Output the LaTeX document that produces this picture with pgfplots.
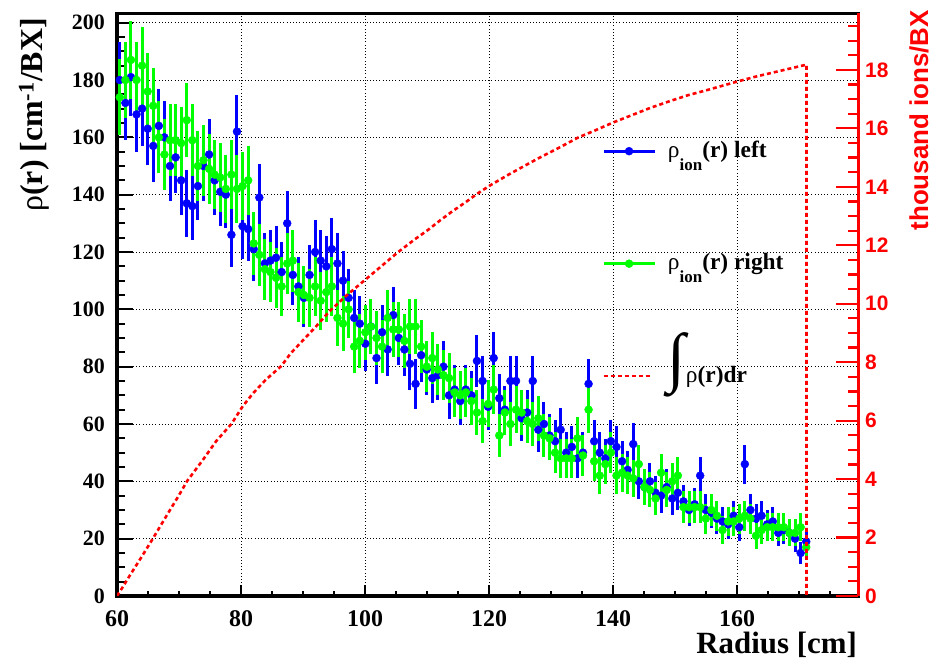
\documentclass[border=0pt]{standalone}
\usepackage{fontspec}
\setmainfont{Liberation Serif}
\newfontfamily\arialfont{Liberation Sans}
\usepackage{pgfplots}
\pgfplotsset{compat=1.18}
\usepackage{pgfplotstable}

\pgfplotstableread{
x y e
60.45 180 13.4
61.35 172 13.1
62.25 181 13.5
63.15 168 13.0
64.05 170 13.0
64.95 163 12.8
65.85 157 12.5
66.75 164 12.8
67.65 160 12.6
68.55 150 12.2
69.45 153 12.4
70.35 145 12.0
71.25 137 11.7
72.15 136 11.7
73.05 143 12.0
73.95 150 12.2
74.85 154 12.4
75.75 145 12.0
76.65 141 11.9
77.55 140 11.8
78.45 126 11.2
79.35 162 12.7
80.25 129 11.4
81.15 128 11.3
82.05 121 11.0
82.95 139 11.8
83.85 116 10.8
84.75 117 10.8
85.65 118 10.9
86.55 113 10.6
87.45 130 11.4
88.35 112 10.6
89.25 108 10.4
90.15 104 10.2
91.05 112 10.6
91.95 120 11.0
92.85 117 10.8
93.75 115 10.7
94.65 121 11.0
95.55 116 10.8
96.45 110 10.5
97.35 104 10.2
98.25 97 9.8
99.15 95 9.7
100.05 88 9.4
100.95 94 9.7
101.85 83 9.1
102.75 92 9.6
103.65 86 9.3
104.55 98 9.9
105.45 90 9.5
106.35 86 9.3
107.25 81 9.0
108.15 74 8.6
109.05 84 9.2
109.95 79 8.9
110.85 76 8.7
111.75 77 8.8
112.65 80 8.9
113.55 70 8.4
114.45 72 8.5
115.35 68 8.2
116.25 72 8.5
117.15 70 8.4
118.05 82 9.1
118.95 75 8.7
119.85 66 8.1
120.75 83 9.1
121.65 69 8.3
122.55 65 8.1
123.45 75 8.7
124.35 75 8.7
125.25 62 7.9
126.15 64 8.0
127.05 75 8.7
127.95 58 7.6
128.85 60 7.7
129.75 56 7.5
130.65 54 7.3
131.55 58 7.6
132.45 50 7.1
133.35 52 7.2
134.25 48 6.9
135.15 50 7.1
136.05 74 8.6
136.95 54 7.3
137.85 50 7.1
138.75 48 6.9
139.65 54 7.3
140.55 52 7.2
141.45 47 6.9
142.35 44 6.6
143.25 53 7.3
144.15 40 6.3
145.05 38 6.2
145.95 40 6.3
146.85 36 6.0
147.75 35 5.9
148.65 38 6.2
149.55 34 5.8
150.45 36 6.0
151.35 33 5.7
152.25 30 5.5
153.15 32 5.7
154.05 42 6.5
154.95 30 5.5
155.85 29 5.4
156.75 27 5.2
157.65 26 5.1
158.55 25 5.0
159.45 28 5.3
160.35 24 4.9
161.25 46 6.8
162.15 30 5.5
163.05 27 5.2
163.95 28 5.3
164.85 25 5.0
165.75 26 5.1
166.65 22 4.7
167.55 23 4.8
168.45 22 4.7
169.35 20 4.5
170.25 15 3.9
171.15 19 4.4
}\bluetab

\pgfplotstableread{
x y e
60.45 174 13.2
61.35 180 13.4
62.25 187 13.7
63.15 180 13.4
64.05 185 13.6
64.95 176 13.3
65.85 171 13.1
66.75 160 12.6
67.65 154 12.4
68.55 159 12.6
69.45 159 12.6
70.35 158 12.6
71.25 166 12.9
72.15 159 12.6
73.05 150 12.2
73.95 152 12.3
74.85 149 12.2
75.75 147 12.1
76.65 146 12.1
77.55 142 11.9
78.45 147 12.1
79.35 142 11.9
80.25 143 12.0
81.15 145 12.0
82.05 123 11.1
82.95 119 10.9
83.85 114 10.7
84.75 113 10.6
85.65 111 10.5
86.55 108 10.4
87.45 116 10.8
88.35 117 10.8
89.25 106 10.3
90.15 105 10.2
91.05 104 10.2
91.95 108 10.4
92.85 103 10.1
93.75 106 10.3
94.65 108 10.4
95.55 97 9.8
96.45 95 9.7
97.35 100 10.0
98.25 87 9.3
99.15 89 9.4
100.05 92 9.6
100.95 94 9.7
101.85 90 9.5
102.75 87 9.3
103.65 97 9.8
104.55 93 9.6
105.45 93 9.6
106.35 89 9.4
107.25 94 9.7
108.15 94 9.7
109.05 87 9.3
109.95 80 8.9
110.85 83 9.1
111.75 79 8.9
112.65 77 8.8
113.55 76 8.7
114.45 71 8.4
115.35 70 8.4
116.25 71 8.4
117.15 68 8.2
118.05 64 8.0
118.95 61 7.8
119.85 67 8.2
120.75 72 8.5
121.65 56 7.5
122.55 64 8.0
123.45 60 7.7
124.35 65 8.1
125.25 64 8.0
126.15 61 7.8
127.05 60 7.7
127.95 62 7.9
128.85 56 7.5
129.75 55 7.4
130.65 50 7.1
131.55 48 6.9
132.45 48 6.9
133.35 48 6.9
134.25 55 7.4
135.15 49 7.0
136.05 65 8.1
136.95 47 6.9
137.85 42 6.5
138.75 46 6.8
139.65 50 7.1
140.55 42 6.5
141.45 43 6.6
142.35 42 6.5
143.25 41 6.4
144.15 46 6.8
145.05 38 6.2
145.95 37 6.1
146.85 34 5.8
147.75 43 6.6
148.65 37 6.1
149.55 40 6.3
150.45 42 6.5
151.35 31 5.6
152.25 31 5.6
153.15 31 5.6
154.05 31 5.6
154.95 27 5.2
155.85 30 5.5
156.75 28 5.3
157.65 23 4.8
158.55 26 5.1
159.45 26 5.1
160.35 27 5.2
161.25 28 5.3
162.15 27 5.2
163.05 21 4.6
163.95 23 4.8
164.85 24 4.9
165.75 24 4.9
166.65 24 4.9
167.55 24 4.9
168.45 22 4.7
169.35 22 4.7
170.25 24 4.9
171.15 17 4.1
}\greentab

\pgfplotstableread{
x y
60.0 0
61.0 0.33
62.0 0.68
64.0 1.35
65.8 1.97
68.0 2.75
70.0 3.45
71.3 3.93
74.0 4.70
76.0 5.30
78.5 5.90
80.3 6.50
82.0 6.95
84.0 7.40
86.5 7.87
88.0 8.30
90.0 8.75
92.0 9.20
94.3 9.75
97.0 10.28
100.2 10.85
103.0 11.35
105.3 11.76
108.0 12.20
110.0 12.50
112.1 12.85
114.0 13.15
116.4 13.50
118.0 13.75
120.1 14.04
123.0 14.40
126.0 14.75
128.0 14.98
131.4 15.35
134.4 15.69
137.0 15.92
140.0 16.20
143.0 16.45
146.0 16.70
149.0 16.92
152.0 17.13
155.0 17.30
158.0 17.48
160.0 17.60
163.0 17.77
166.0 17.92
168.0 18.02
170.4 18.14
171.2 18.18
171.2 0
}\inttab

\begin{document}
\begin{tikzpicture}
\useasboundingbox (0,0) rectangle (935bp,661bp);
\begin{axis}[
  at={(117bp,65bp)}, anchor=south west,
  width=741bp, height=582.5bp, scale only axis,
  xmin=60, xmax=179.5, ymin=0, ymax=203.2,
  xtick={60,80,...,180}, ytick={0,20,...,200},
  minor x tick num=3, minor y tick num=3,
  xtick pos=bottom, ytick pos=left, tick align=inside,
  xtick style={/pgfplots/major tick length=11bp,/pgfplots/minor tick length=4.5bp, line width=2.2bp, black},
  ytick style={/pgfplots/major tick length=16bp,/pgfplots/minor tick length=8bp, line width=2.2bp, black},
  grid=major, major grid style={black, line width=0.9bp, dash pattern=on 1bp off 2.2bp},
  axis line style={line width=3bp},
  /pgf/number format/assume math mode=true,
  xticklabel style={font=\fontsize{24}{24}\selectfont\bfseries, anchor=north, inner sep=0pt, yshift=-14.5bp},
  yticklabel style={font=\fontsize{22}{22}\selectfont\bfseries, anchor=east, inner sep=0pt, xshift=-12bp},
  xlabel={\textbf{Radius [cm]}},
  xlabel style={font=\fontsize{31}{31}\selectfont, at={(rel axis cs:0.9987,-0.0979)}, anchor=base east, inner sep=0pt, text height=20bp, text depth=4bp},
  ylabel={{\mdseries ρ}\textbf{(r) [cm}\textsuperscript{\textbf{-1}}\textbf{/BX]}},
  ylabel style={font=\fontsize{32}{32}\selectfont, at={(rel axis cs:-0.1005,0.9923)}, anchor=base east, inner sep=0pt},
  legend style={draw=none, fill=none, at={(rel axis cs:0.6545,0.788)}, anchor=north west, inner sep=0pt,
    row sep=84.5bp, column sep=12bp, font=\fontsize{23.5}{23.5}\selectfont,
    nodes={inner sep=0pt, text height=20bp, text depth=8bp}},
  legend cell align=left,
]
\addplot[blue, only marks, mark=*, mark size=4bp,
  legend image code/.code={\draw[line width=2.8bp] (0bp,0bp) -- (51bp,0bp); \fill (25.5bp,0bp) circle (4bp);},
  error bars/.cd, y dir=both, y explicit, error mark=none,
  error bar style={line width=3bp, blue}]
  table[x=x, y=y, y error=e]{\bluetab};
\addlegendentry{{\mdseries ρ}\raisebox{-13bp}{\fontsize{17}{17}\selectfont\bfseries ion}\textbf{(r) left}}
\addplot[green, only marks, mark=*, mark size=4bp,
  legend image code/.code={\draw[line width=2.8bp] (0bp,0bp) -- (51bp,0bp); \fill (25.5bp,0bp) circle (4bp);},
  error bars/.cd, y dir=both, y explicit, error mark=none,
  error bar style={line width=3bp, green}]
  table[x=x, y=y, y error=e]{\greentab};
\addlegendentry{{\mdseries ρ}\raisebox{-13bp}{\fontsize{17}{17}\selectfont\bfseries ion}\textbf{(r) right}}
\addlegendimage{red, line width=2.6bp, dash pattern=on 4bp off 3bp,
  legend image code/.code={\draw (0bp,0bp) -- (48bp,0bp);}}
\addlegendentry{\raisebox{3bp}{\fontsize{66}{66}\selectfont ∫}{\mdseries ρ}\textbf{(r)dr}}
\end{axis}
\begin{axis}[
  at={(117bp,65bp)}, anchor=south west,
  width=741bp, height=582.5bp, scale only axis,
  xmin=60, xmax=179.5, ymin=0, ymax=19.93,
  axis x line=none, axis y line*=right,
  ytick={0,2,...,20}, minor y tick num=3, tick align=inside,
  ytick style={/pgfplots/major tick length=22bp,/pgfplots/minor tick length=10bp, line width=2.2bp, red},
  y axis line style={red, line width=3bp},
  /pgf/number format/assume math mode=true,
  yticklabel style={red, font=\arialfont\fontsize{21}{21}\selectfont\bfseries, anchor=west, inner sep=0pt, xshift=7bp},
  ylabel={\arialfont\bfseries thousand ions/BX},
  ylabel style={red, font=\fontsize{26}{26}\selectfont, at={(rel axis cs:1.0945,1.006)}, anchor=base east, inner sep=0pt},
]
\addplot[red, line width=2.6bp, dash pattern=on 4bp off 3bp] table[x=x, y=y]{\inttab};
\end{axis}
\end{tikzpicture}
\end{document}
